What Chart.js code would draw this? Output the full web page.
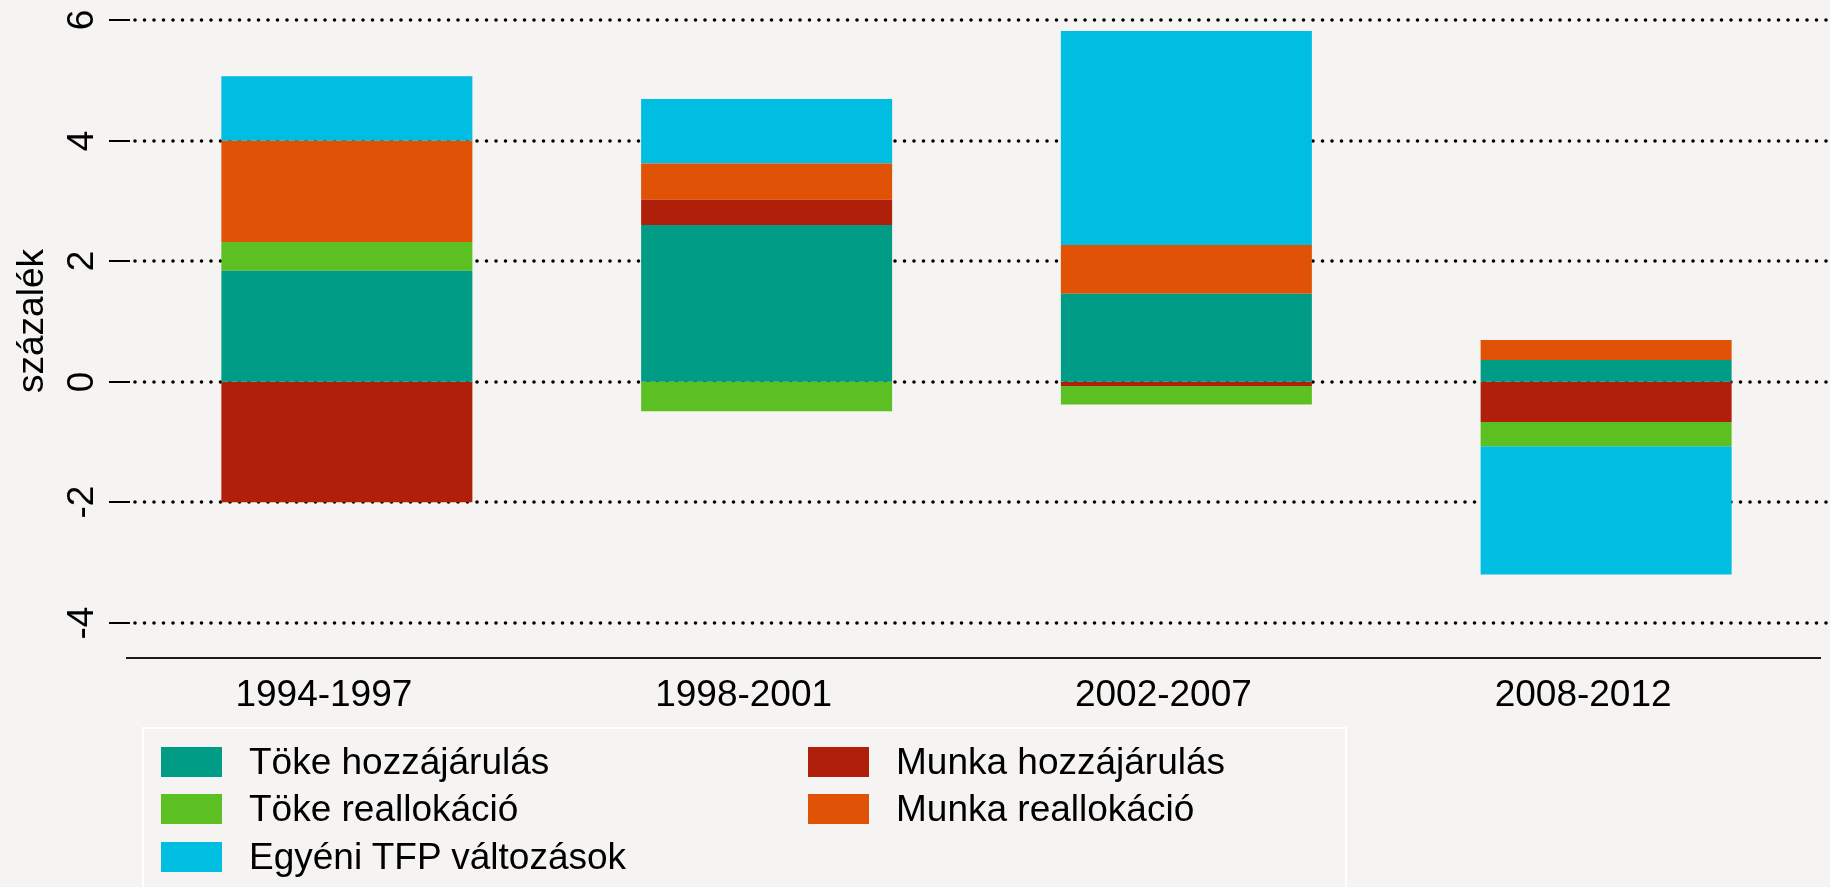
<!DOCTYPE html>
<html>
<head>
<meta charset="utf-8">
<script src="https://cdn.jsdelivr.net/npm/chart.js@4.4.0/dist/chart.umd.min.js"></script>
<style>
  body { margin: 0; background: #f5f4f2; }
  #wrap { position: relative; width: 1830px; height: 887px; overflow: hidden; background: #f5f4f2; }
  #legend {
    position: absolute; left: 142px; top: 727px; width: 1205px; height: 220px;
    box-sizing: border-box; border: 2px solid #ffffff;
    font: 37px "Liberation Sans", Arial, sans-serif; color: #000;
  }
  .item { position: absolute; display: flex; align-items: center; height: 30px; white-space: nowrap; }
  .box { width: 61px; height: 30px; margin-right: 27px; flex: none; }
</style>
</head>
<body>
<div id="wrap">
  <canvas id="chart" width="1830" height="887"></canvas>
  <div id="legend"></div>
</div>
<script>
const categories = ['1994-1997', '1998-2001', '2002-2007', '2008-2012'];
const yTicks = [6, 4, 2, 0, -2, -4];

const tokeHozzajarulas = [1.84, 2.60, 1.46, 0.36];
const munkaHozzajarulas = [-2.00, 0.42, -0.07, -0.67];
const tokeReallokacio = [0.48, -0.49, -0.31, -0.40];
const munkaReallokacio = [1.68, 0.60, 0.81, 0.33];
const egyeniTfp = [1.07, 1.07, 3.55, -2.13];

const FONT = '37px "Liberation Sans", Arial, sans-serif';

function bar(label, data, color) {
    return {
        label: label,
        data: data,
        backgroundColor: color,
        borderWidth: 0,
        barPercentage: 0.598,
        categoryPercentage: 1.0
    };
}

// R-style axes: dotted grid, short ticks, rotated y labels, shifted x labels
const rAxes = {
    id: 'rAxes',
    beforeDatasetsDraw(chart) {
        const { ctx, scales: { y } } = chart;
        ctx.save();
        ctx.strokeStyle = '#000';
        ctx.fillStyle = '#000';
        yTicks.forEach(v => {
            const py = Math.round(y.getPixelForValue(v));
            ctx.lineWidth = 3.6;
            ctx.lineCap = 'round';
            ctx.setLineDash([0, 9.5]);
            ctx.beginPath();
            ctx.moveTo(135, py);
            ctx.lineTo(1830, py);
            ctx.stroke();

            ctx.setLineDash([]);
            ctx.lineCap = 'butt';
            ctx.lineWidth = 2;
            ctx.beginPath();
            ctx.moveTo(109, py);
            ctx.lineTo(130, py);
            ctx.stroke();

            ctx.save();
            ctx.translate(93, py);
            ctx.rotate(-Math.PI / 2);
            ctx.font = FONT;
            ctx.textAlign = 'center';
            ctx.textBaseline = 'alphabetic';
            ctx.fillText(String(v), 0, 0);
            ctx.restore();
        });

        ctx.save();
        ctx.translate(43, 321);
        ctx.rotate(-Math.PI / 2);
        ctx.font = FONT;
        ctx.textAlign = 'center';
        ctx.fillText('százalék', 0, 0);
        ctx.restore();
        ctx.restore();
    },
    afterDatasetsDraw(chart) {
        const { ctx, scales: { x } } = chart;
        ctx.save();
        ctx.strokeStyle = '#1a1a1a';
        ctx.lineWidth = 2;
        ctx.beginPath();
        ctx.moveTo(126, 658);
        ctx.lineTo(1821, 658);
        ctx.stroke();

        ctx.fillStyle = '#000';
        ctx.font = FONT;
        ctx.textAlign = 'center';
        ctx.textBaseline = 'alphabetic';
        categories.forEach((c, i) => {
            ctx.fillText(c, x.getPixelForValue(i) - 23, 706);
        });
        ctx.restore();
    }
};

const ctx = document.getElementById('chart').getContext('2d');
const chart = new Chart(ctx, {
    type: 'bar',
    data: {
        labels: categories,
        datasets: [
            bar('Töke hozzájárulás', tokeHozzajarulas, '#009c85'),
            bar('Munka hozzájárulás', munkaHozzajarulas, '#b01f0a'),
            bar('Töke reallokáció', tokeReallokacio, '#5cbf22'),
            bar('Munka reallokáció', munkaReallokacio, '#e05206'),
            bar('Egyéni TFP változások', egyeniTfp, '#00bde2')
        ]
    },
    options: {
        responsive: false,
        devicePixelRatio: 1,
        animation: false,
        layout: { padding: { left: 137, right: 14, top: 0, bottom: 230 } },
        plugins: { legend: { display: false }, tooltip: { enabled: false } },
        scales: {
            x: { stacked: true, display: false },
            y: { stacked: true, display: false, min: -4.57, max: 6.335 }
        }
    },
    plugins: [rAxes]
});

// legend: two columns, same order as the original
const legendCols = [[0, 2, 4], [1, 3]];
const colX = [17, 664];
const rowY = [18, 65, 113];
const legendEl = document.getElementById('legend');
legendCols.forEach((col, ci) => {
    col.forEach((di, ri) => {
        const ds = chart.data.datasets[di];
        const item = document.createElement('div');
        item.className = 'item';
        item.style.left = colX[ci] + 'px';
        item.style.top = rowY[ri] + 'px';
        const box = document.createElement('span');
        box.className = 'box';
        box.style.background = ds.backgroundColor;
        const txt = document.createElement('span');
        txt.textContent = ds.label;
        item.appendChild(box);
        item.appendChild(txt);
        legendEl.appendChild(item);
    });
});
</script>
</body>
</html>
